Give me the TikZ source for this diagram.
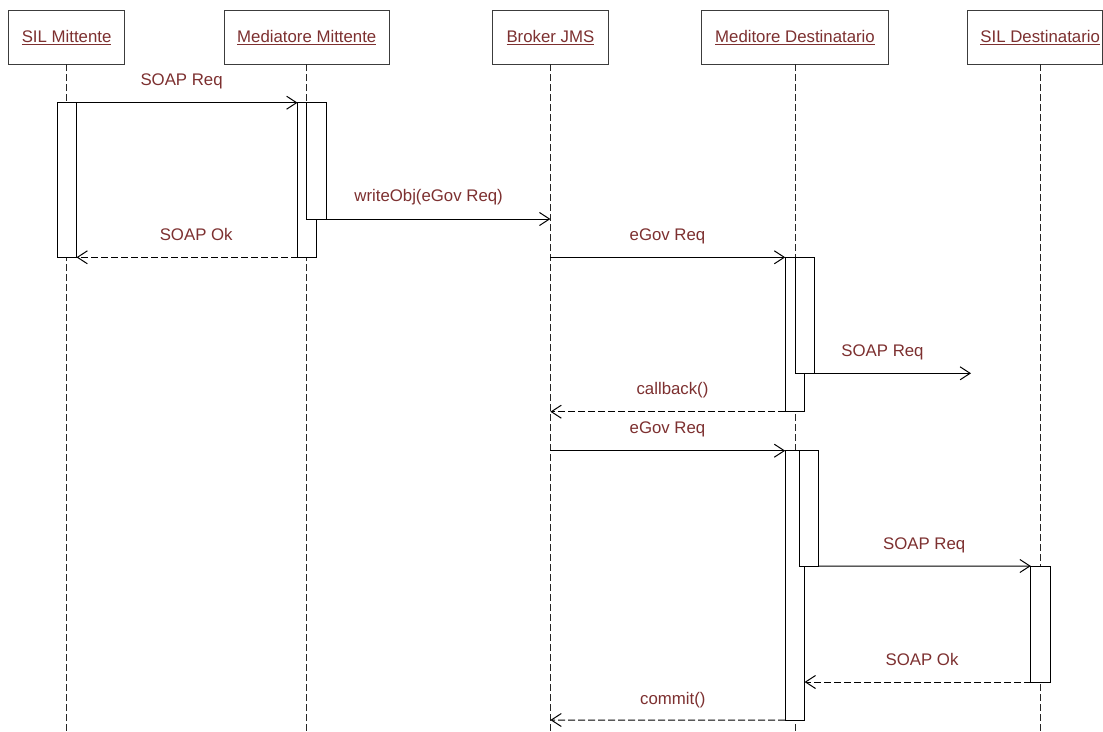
\documentclass[tikz,border=0pt]{standalone}
\usepackage{fontspec}
\setmainfont{Liberation Sans}
\usetikzlibrary{arrows.meta}
\definecolor{txt}{RGB}{125,48,48}
\definecolor{boxline}{RGB}{60,60,60}
\begin{document}
\begin{tikzpicture}[x=1pt,y=-1pt,
  every node/.style={font=\fontsize{16.8}{20}\selectfont, text=txt},
  headbox/.style={draw=boxline, line width=1pt, fill=white, rectangle, inner sep=0pt, outer sep=0pt, minimum height=54pt},
  headtext/.style={anchor=base, inner sep=0pt},
  life/.style={draw=black!85, line width=1pt, dash pattern=on 7pt off 3pt},
  actbar/.style={draw=black, line width=1pt, fill=white, rectangle, inner sep=0pt, outer sep=0pt, minimum width=19.4pt, anchor=north west},
  msg/.style={draw=black, line width=1pt, -{Straight Barb[length=10pt,width=13pt,line width=1pt]}},
  ret/.style={msg, dash pattern=on 7pt off 3pt},
  lbl/.style={anchor=base, inner sep=0pt}
]
\useasboundingbox (0,0) rectangle (1103,731);
\fill[white] (0,0) rectangle (1103,731);

% header boxes
\node[headbox, minimum width=115.7pt] (h1) at (66.45,37) {};
\node[headbox, minimum width=165.6pt] (h2) at (306.8,37) {};
\node[headbox, minimum width=115.8pt] (h3) at (550.4,37) {};
\node[headbox, minimum width=187.1pt] (h4) at (794.75,37) {};
\node[headbox, minimum width=135.0pt] (h5) at (1034.8,37) {};
\node[headtext] (t1) at (66.6,42.7) {\underline{SIL Mittente}};
\node[headtext] (t2) at (306.8,42.7) {\underline{Mediatore Mittente}};
\node[headtext] (t3) at (550.4,42.7) {\underline{Broker JMS}};
\node[headtext] (t4) at (795,42.7) {\underline{Meditore Destinatario}};
\node[headtext] (t5) at (1040.2,42.7) {\underline{SIL Destinatario}};

% lifelines
\coordinate (l1a) at (66.6,64);   \coordinate (l1b) at (66.6,731);
\coordinate (l2a) at (306.8,64);  \coordinate (l2b) at (306.8,731);
\coordinate (l3a) at (550.4,64);  \coordinate (l3b) at (550.4,731);
\coordinate (l4a) at (795,64);    \coordinate (l4b) at (795,731);
\coordinate (l5a) at (1040.5,64); \coordinate (l5b) at (1040.5,731);
\draw[life] (l1a) -- (l1b);
\draw[life] (l2a) -- (l2b);
\draw[life] (l3a) -- (l3b);
\draw[life] (l4a) -- (l4b);
\draw[life] (l5a) -- (l5b);

% activation bars
\node[actbar, minimum height=154.6pt] (b1) at (57.1,102.7) {};
\node[actbar, minimum height=154.6pt] (b2o) at (297.5,102.7) {};
\node[actbar, minimum height=116.3pt] (b2i) at (306.8,102.7) {};
\node[actbar, minimum height=154.4pt] (b4ao) at (785.2,257.3) {};
\node[actbar, minimum height=116.0pt] (b4ai) at (795.2,257.3) {};
\node[actbar, minimum height=269.3pt] (b4bo) at (785.2,450.7) {};
\node[actbar, minimum height=115.3pt] (b4bi) at (799.2,450.7) {};
\node[actbar, minimum height=116.0pt] (b5) at (1030.8,566) {};

% message end points on lifelines
\coordinate (p2) at (550.4,219);
\coordinate (p4) at (550.4,257.3);
\coordinate (p5) at (971,373.3);
\coordinate (p6) at (550.4,411.7);
\coordinate (p7) at (550.4,450.7);
\coordinate (p10) at (550.4,720);

% messages
\draw[msg] (b1.north east) -- (b2o.north west);
\draw[msg] (b2i.south east) -- (b2i.south east -| p2);
\draw[ret] (b2o.south west) -- (b1.south east);
\draw[msg] (p4) -- (b4ao.north west);
\draw[msg] (b4ai.south east) -- (p5);
\draw[ret] (b4ao.south west) -- (p6);
\draw[msg] (p7) -- (b4bo.north west);
\draw[msg] (b4bi.south east) -- (b5.north west);
\draw[ret] (b5.south west) -- (b5.south west -| b4bo.east);
\draw[ret] (b4bo.south west) -- (p10);

% labels
\node[lbl] (m1) at (181.6,85) {SOAP Req};
\node[lbl] (m2) at (428.6,201.5) {writeObj(eGov Req)};
\node[lbl] (m3) at (196.2,240) {SOAP Ok};
\node[lbl] (m4) at (667.5,240) {eGov Req};
\node[lbl] (m5) at (882.5,356) {SOAP Req};
\node[lbl] (m6) at (672.5,394.3) {callback()};
\node[lbl] (m7) at (667.5,433.3) {eGov Req};
\node[lbl] (m8) at (924.2,549.3) {SOAP Req};
\node[lbl] (m9) at (922,665) {SOAP Ok};
\node[lbl] (m10) at (672.9,704.3) {commit()};
\end{tikzpicture}
\end{document}
